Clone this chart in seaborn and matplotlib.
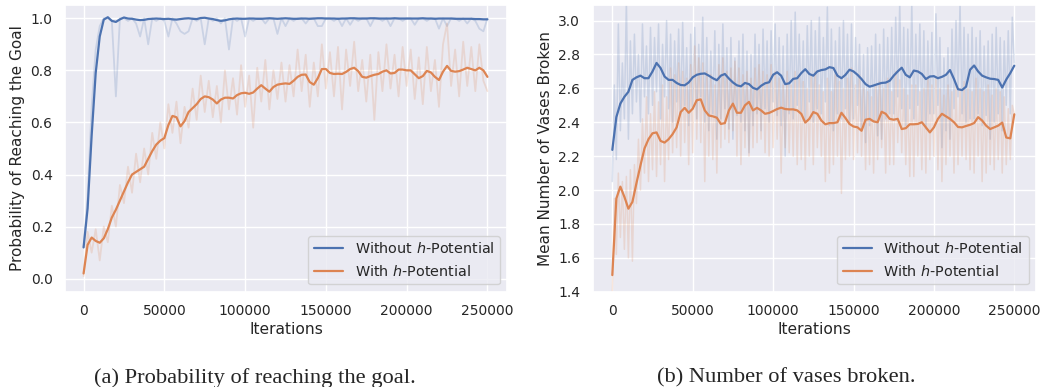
import numpy as np
import pandas as pd
import matplotlib
matplotlib.use("Agg")
import matplotlib.pyplot as plt
import seaborn as sns

# ---------------- data ----------------
iterations = np.arange(0, 250001, 2500)        # grid of the smoothed curves
iterations_fine = np.arange(0, 250001, 1250)   # grid of the raw curves (right panel)

goal_without_smooth = [
    0.12, 0.27, 0.55, 0.79, 0.93, 0.995, 1.004, 0.990, 0.986, 0.996, 1.003,
    0.999, 0.998, 0.995, 0.993, 0.994, 0.997, 0.998, 0.999, 0.998, 0.997,
    0.998, 0.996, 0.995, 0.997, 0.999, 1.000, 0.998, 0.997, 1.001, 1.002,
    0.999, 0.997, 0.993, 0.990, 0.992, 0.996, 0.998, 0.999, 0.998, 0.998,
    0.999, 0.999, 0.998, 0.998, 0.999, 1.000, 0.999, 0.998, 0.999, 1.000,
    0.999, 0.998, 0.998, 0.999, 0.999, 0.998, 0.999, 1.000, 1.000, 0.999,
    0.999, 0.999, 0.998, 0.999, 0.999, 1.000, 1.000, 0.999, 0.999, 0.999,
    1.000, 1.000, 0.999, 0.999, 0.999, 0.999, 1.000, 0.999, 0.999, 0.999,
    0.999, 0.999, 0.999, 1.000, 0.999, 0.999, 0.998, 0.999, 0.999, 0.999,
    0.999, 0.998, 0.998, 0.998, 0.998, 0.998, 0.997, 0.997, 0.996, 0.996]

goal_without_raw = [
    0.12, 0.32, 0.66, 0.88, 0.97, 1.00, 1.00, 0.99, 0.70, 1.00, 1.00,
    0.99, 1.00, 0.98, 0.93, 1.00, 0.90, 1.00, 0.99, 1.00, 0.99,
    0.93, 1.00, 0.98, 0.95, 0.94, 0.95, 1.00, 0.99, 1.00, 0.90,
    1.00, 0.99, 1.00, 0.98, 1.00, 0.88, 1.00, 0.99, 1.00, 0.93,
    1.00, 0.99, 1.00, 1.00, 0.98, 1.00, 1.00, 0.94, 1.00, 0.97,
    1.00, 0.99, 1.00, 1.00, 0.98, 1.00, 1.00, 0.97, 0.97, 1.00,
    1.00, 0.99, 1.00, 0.97, 1.00, 0.975, 1.00, 0.99, 1.00, 1.00,
    0.97, 1.00, 1.00, 0.99, 1.00, 0.97, 1.00, 1.00, 0.99, 1.00,
    1.00, 0.975, 1.00, 1.00, 0.99, 1.00, 1.00, 0.96, 1.00, 0.97,
    1.00, 1.00, 0.99, 1.00, 0.98, 1.00, 0.99, 0.96, 0.95, 1.00]

goal_with_smooth = [
    0.02, 0.13, 0.158, 0.145, 0.138, 0.155, 0.19, 0.235, 0.265, 0.30, 0.335,
    0.37, 0.40, 0.41, 0.42, 0.43, 0.46, 0.49, 0.515, 0.53, 0.54,
    0.59, 0.625, 0.62, 0.585, 0.605, 0.64, 0.655, 0.67, 0.69, 0.70,
    0.697, 0.688, 0.673, 0.688, 0.695, 0.695, 0.692, 0.705, 0.712, 0.714,
    0.71, 0.715, 0.73, 0.743, 0.73, 0.718, 0.736, 0.745, 0.748, 0.75,
    0.748, 0.76, 0.775, 0.783, 0.784, 0.755, 0.745, 0.77, 0.805, 0.805,
    0.79, 0.786, 0.787, 0.786, 0.794, 0.805, 0.81, 0.797, 0.775, 0.772,
    0.778, 0.783, 0.786, 0.795, 0.80, 0.788, 0.79, 0.803, 0.803, 0.80,
    0.80, 0.785, 0.77, 0.778, 0.798, 0.792, 0.775, 0.763, 0.795, 0.817,
    0.798, 0.795, 0.797, 0.803, 0.81, 0.805, 0.80, 0.81, 0.80, 0.775]

goal_with_raw = [
    0.01, 0.18, 0.10, 0.19, 0.07, 0.20, 0.14, 0.28, 0.20, 0.36, 0.29,
    0.43, 0.33, 0.48, 0.37, 0.50, 0.40, 0.56, 0.46, 0.60, 0.50,
    0.67, 0.56, 0.68, 0.52, 0.66, 0.58, 0.73, 0.61, 0.78, 0.64,
    0.76, 0.62, 0.74, 0.60, 0.80, 0.65, 0.77, 0.63, 0.82, 0.66,
    0.78, 0.58, 0.81, 0.68, 0.84, 0.65, 0.80, 0.69, 0.83, 0.68,
    0.82, 0.70, 0.88, 0.72, 0.86, 0.66, 0.83, 0.70, 0.90, 0.73,
    0.87, 0.70, 0.89, 0.65, 0.88, 0.74, 0.91, 0.72, 0.84, 0.68,
    0.86, 0.61, 0.87, 0.72, 0.90, 0.73, 0.86, 0.70, 0.89, 0.74,
    0.88, 0.69, 0.85, 0.67, 0.89, 0.72, 0.84, 0.66, 0.90, 0.98,
    0.74, 0.88, 0.70, 0.91, 0.74, 0.89, 0.72, 0.90, 0.76, 0.72]

vases_without_smooth = [
    2.237, 2.43, 2.51, 2.55, 2.58, 2.65, 2.665, 2.675, 2.66, 2.66, 2.70,
    2.75, 2.72, 2.67, 2.65, 2.65, 2.632, 2.62, 2.618, 2.635, 2.665,
    2.68, 2.686, 2.688, 2.675, 2.66, 2.648, 2.675, 2.685, 2.658, 2.635,
    2.618, 2.612, 2.632, 2.625, 2.603, 2.594, 2.615, 2.63, 2.636, 2.68,
    2.695, 2.675, 2.625, 2.63, 2.656, 2.66, 2.69, 2.713, 2.685, 2.675,
    2.70, 2.708, 2.712, 2.725, 2.72, 2.675, 2.66, 2.68, 2.71, 2.70,
    2.68, 2.655, 2.625, 2.61, 2.617, 2.625, 2.632, 2.634, 2.645, 2.675,
    2.70, 2.722, 2.68, 2.665, 2.705, 2.70, 2.685, 2.655, 2.67, 2.672,
    2.66, 2.668, 2.68, 2.708, 2.655, 2.595, 2.59, 2.61, 2.71, 2.735,
    2.70, 2.675, 2.665, 2.657, 2.655, 2.65, 2.605, 2.652, 2.69, 2.734]

vases_without_raw = [
    2.05, 2.62, 2.18, 2.98, 2.35, 2.75, 2.42, 3.12, 2.30, 2.88,
    2.45, 2.92, 2.52, 2.80, 2.40, 2.98, 2.55, 2.85, 2.45, 2.96,
    2.50, 2.90, 2.58, 2.98, 2.42, 2.86, 2.55, 3.00, 2.48, 2.92,
    2.40, 2.88, 2.52, 2.95, 2.45, 2.99, 2.50, 2.84, 2.38, 2.92,
    2.48, 2.96, 2.42, 2.86, 2.55, 3.02, 2.40, 2.90, 2.35, 2.82,
    2.45, 2.94, 2.30, 2.86, 2.42, 2.98, 2.48, 2.84, 2.36, 2.90,
    2.30, 2.78, 2.44, 2.88, 2.40, 2.92, 2.35, 2.82, 2.22, 2.80,
    2.38, 2.92, 2.45, 2.86, 2.35, 2.95, 2.48, 2.88, 2.40, 2.94,
    2.52, 2.98, 2.44, 2.90, 2.38, 2.85, 2.20, 2.92, 2.45, 3.00,
    2.42, 3.05, 2.50, 2.92, 2.46, 2.88, 2.40, 2.97, 2.52, 3.00,
    2.40, 2.94, 2.48, 3.02, 2.45, 2.90, 2.52, 3.08, 2.38, 2.95,
    2.35, 2.88, 2.45, 2.96, 2.42, 3.00, 2.48, 2.92, 2.40, 2.98,
    2.42, 2.90, 2.50, 2.86, 2.35, 2.80, 2.28, 2.84, 2.38, 2.85,
    2.40, 2.92, 2.32, 2.86, 2.30, 2.95, 2.42, 2.90, 2.45, 2.96,
    2.45, 3.02, 2.55, 3.10, 2.48, 2.96, 2.38, 2.95, 2.48, 3.10,
    2.42, 2.92, 2.50, 2.98, 2.40, 2.94, 2.36, 2.88, 2.45, 2.93,
    2.45, 3.04, 2.50, 2.90, 2.25, 2.78, 2.35, 2.84, 2.30, 2.95,
    2.48, 3.00, 2.55, 3.10, 2.45, 2.96, 2.40, 2.92, 2.42, 2.96,
    2.42, 2.90, 2.45, 2.94, 2.38, 2.85, 2.44, 2.88, 2.30, 2.92,
    2.40, 2.96, 2.45, 2.90, 2.35, 2.88, 2.50, 2.94, 2.45, 3.02,
    2.75]

vases_with_smooth = [
    1.498, 1.95, 2.02, 1.96, 1.89, 1.93, 2.04, 2.145, 2.245, 2.30, 2.335,
    2.34, 2.29, 2.28, 2.30, 2.33, 2.37, 2.46, 2.485, 2.456, 2.48,
    2.53, 2.535, 2.47, 2.44, 2.435, 2.427, 2.39, 2.395, 2.47, 2.51,
    2.456, 2.456, 2.50, 2.52, 2.47, 2.485, 2.47, 2.45, 2.455, 2.466,
    2.478, 2.486, 2.478, 2.476, 2.476, 2.47, 2.45, 2.398, 2.42, 2.46,
    2.45, 2.41, 2.388, 2.395, 2.395, 2.40, 2.456, 2.425, 2.39, 2.375,
    2.37, 2.35, 2.415, 2.42, 2.405, 2.40, 2.462, 2.45, 2.42, 2.415,
    2.42, 2.36, 2.365, 2.388, 2.388, 2.39, 2.40, 2.37, 2.34, 2.37,
    2.42, 2.45, 2.435, 2.42, 2.40, 2.372, 2.37, 2.378, 2.385, 2.395,
    2.43, 2.41, 2.38, 2.36, 2.37, 2.38, 2.398, 2.31, 2.305, 2.447]

vases_with_raw = [
    1.40, 1.95, 1.62, 2.10, 1.72, 2.05, 1.65, 2.08, 1.60, 2.12,
    1.58, 2.15, 1.92, 2.30, 2.00, 2.42, 2.10, 2.55, 2.05, 2.45,
    2.12, 2.58, 2.08, 2.52, 2.15, 2.62, 2.05, 2.55, 2.18, 2.72,
    2.22, 2.68, 2.25, 2.75, 2.20, 2.70, 2.28, 2.66, 2.15, 2.74,
    2.22, 2.85, 2.30, 2.78, 2.28, 2.75, 2.05, 2.70, 2.20, 2.68,
    2.18, 2.62, 2.10, 2.74, 2.25, 2.78, 2.30, 2.70, 2.28, 2.72,
    2.35, 2.76, 2.20, 2.72, 2.15, 2.68, 2.25, 2.70, 2.20, 2.66,
    2.25, 2.72, 2.28, 2.74, 2.30, 2.70, 2.22, 2.68, 2.20, 2.74,
    2.25, 2.70, 2.30, 2.66, 2.10, 2.62, 2.25, 2.70, 2.22, 2.62,
    2.20, 2.70, 2.15, 2.66, 2.18, 2.64, 2.12, 2.60, 2.20, 2.68,
    2.15, 2.70, 2.25, 2.62, 2.20, 2.58, 2.05, 2.66, 2.10, 2.58,
    2.15, 2.68, 2.20, 2.64, 1.98, 2.60, 2.18, 2.66, 2.20, 2.72,
    2.18, 2.62, 2.22, 2.68, 2.20, 2.60, 2.12, 2.58, 2.15, 2.55,
    2.10, 2.62, 2.18, 2.64, 2.25, 2.60, 2.10, 2.66, 2.15, 2.58,
    2.15, 2.70, 2.28, 2.65, 2.22, 2.60, 2.15, 2.56, 2.08, 2.62,
    2.08, 2.62, 2.20, 2.58, 2.12, 2.60, 2.10, 2.66, 2.18, 2.62,
    2.20, 2.66, 2.12, 2.60, 2.05, 2.56, 2.15, 2.62, 2.20, 2.58,
    2.10, 2.62, 2.15, 2.60, 2.20, 2.64, 2.18, 2.60, 2.12, 2.58,
    2.10, 2.66, 2.20, 2.60, 2.05, 2.58, 2.10, 2.62, 2.15, 2.56,
    2.12, 2.60, 2.18, 2.58, 2.10, 2.55, 2.15, 2.48, 2.18, 2.50,
    2.45]

series_labels = ["Without $h$-Potential", "With $h$-Potential"]
x_label = "Iterations"
y_labels = ["Probability of Reaching the Goal", "Mean Number of Vases Broken"]
captions = ["(a) Probability of reaching the goal.", "(b) Number of vases broken."]

# ---------------- style ----------------
sns.set_theme(style="darkgrid")
plt.rcParams["font.family"] = ["DejaVu Sans"]
pal = sns.color_palette("deep")
c_blue, c_orange = pal[0], pal[1]

fig = plt.figure(figsize=(10.43, 3.87), dpi=100)
ax1 = fig.add_axes([65 / 1043, 1 - 291.7 / 387, (507.3 - 65) / 1043, (291.7 - 5) / 387])
ax2 = fig.add_axes([592.7 / 1043, 1 - 291.7 / 387, (1036 - 592.7) / 1043, (291.7 - 5) / 387])

panels = [
    (ax1, iterations, goal_without_raw, goal_with_raw, goal_without_smooth, goal_with_smooth, 1.3),
    (ax2, iterations_fine, vases_without_raw, vases_with_raw, vases_without_smooth, vases_with_smooth, 1.1),
]

for ax, xr, raw_b, raw_o, sm_b, sm_o, rlw in panels:
    sns.lineplot(x=xr, y=raw_b, ax=ax, color=c_blue, alpha=0.2, lw=rlw)
    sns.lineplot(x=xr, y=raw_o, ax=ax, color=c_orange, alpha=0.2, lw=rlw)
    sns.lineplot(x=iterations, y=sm_b, ax=ax, color=c_blue, lw=1.6, label=series_labels[0])
    sns.lineplot(x=iterations, y=sm_o, ax=ax, color=c_orange, lw=1.6, label=series_labels[1])
    ax.set_xticks([0, 50000, 100000, 150000, 200000, 250000])
    ax.tick_params(labelsize=10, pad=3)
    ax.set_xlabel(x_label, fontsize=11.2, labelpad=3)
    ax.legend(loc="lower right", fontsize=10.4)

ax1.set_xlim(-11500, 262300)
ax1.set_ylim(-0.05, 1.051)
ax1.set_yticks([0.0, 0.2, 0.4, 0.6, 0.8, 1.0])
ax1.set_ylabel(y_labels[0], fontsize=11)

ax2.set_xlim(-12200, 263500)
ax2.set_ylim(1.4, 3.092)
ax2.set_yticks([1.4, 1.6, 1.8, 2.0, 2.2, 2.4, 2.6, 2.8, 3.0])
ax2.set_ylabel(y_labels[1], fontsize=11)

cap_y = 1 - 382.7 / 387
fig.text(255 / 1043, cap_y, captions[0], ha="center", va="baseline",
         fontsize=16.2, family=["Liberation Serif", "DejaVu Serif"])
fig.text(786.7 / 1043, cap_y, captions[1], ha="center", va="baseline",
         fontsize=16.2, family=["Liberation Serif", "DejaVu Serif"])

fig.savefig("out.png", dpi=100)
